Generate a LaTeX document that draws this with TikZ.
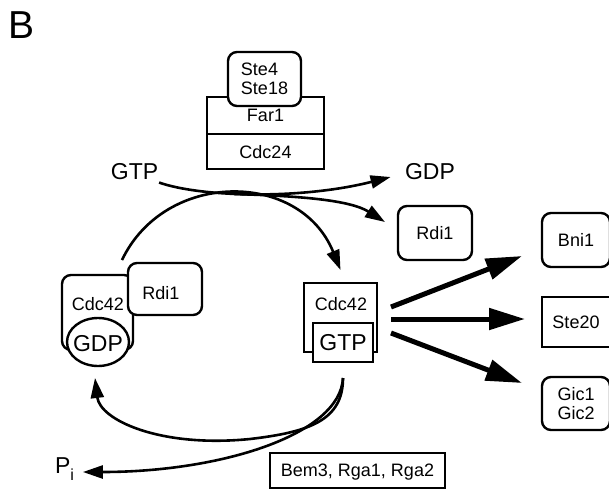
\documentclass[tikz,border=0pt]{standalone}
\usepackage{fontspec}
\setmainfont{Liberation Sans}
\usetikzlibrary{arrows.meta,shapes.geometric}
\begin{document}
\begin{tikzpicture}[x=1pt,y=-1pt,
  every node/.style={inner sep=0pt, outer sep=0pt},
  lbl/.style={font=\fontsize{18}{19}\selectfont, text depth=0pt},
  big/.style={font=\fontsize{23}{25}\selectfont, text depth=0pt},
  rbox/.style={draw, line width=2.4pt, rounded corners=9pt, fill=white, lbl},
  sbox/.style={draw, line width=2.4pt, fill=white, lbl},
  link/.style={line width=2.6pt, -{Triangle[length=20pt,width=13pt]}},
  push/.style={line width=5pt, -{Triangle[length=36pt,width=21pt]}},
]
\useasboundingbox (0,0) rectangle (609,490);

% panel letter
\node[font=\fontsize{39}{39}\selectfont, anchor=base] (panel) at (21.5,38) {B};

% GEF complex: Far1 / Cdc24 with the G-beta-gamma cap
\node[sbox, minimum width=117pt, minimum height=37pt] (far) at (265.5,115.5) {Far1};
\node[sbox, minimum width=117pt, minimum height=35pt] (cdc24) at (265.5,151.5) {Cdc24};
\node[rbox, minimum width=73pt, minimum height=54pt, align=left] (ste) at (264.5,79) {Ste4\\Ste18};

% nucleotide labels
\node[big] (gtpL) at (134.5,171.5) {GTP};
\node[big] (gdpL) at (430,171) {GDP};

% released Rdi1
\node[rbox, minimum width=74pt, minimum height=54pt] (rdiR) at (435,233) {Rdi1};

% effectors
\node[rbox, minimum width=68pt, minimum height=54pt] (bni) at (576,240) {Bni1};
\node[sbox, minimum width=68pt, minimum height=50pt] (ste20) at (576,322) {Ste20};
\node[rbox, minimum width=68pt, minimum height=53pt, align=center] (gic) at (576,403.5) {Gic1\\Gic2};

% inactive Cdc42-GDP bound to Rdi1
\node[rbox, minimum width=71pt, minimum height=75pt] (cdcD) at (97.5,312.5) {};
\node[lbl] at (98,303.5) {Cdc42};
\node[draw, ellipse, line width=2.4pt, fill=white, minimum width=62pt, minimum height=48pt] (gdpE) at (98,342) {};
\node[big] at (98,343.5) {GDP};
\node[rbox, minimum width=74pt, minimum height=52pt] (rdiL) at (165,289) {};
\node[lbl] at (161,292.5) {Rdi1};

% active Cdc42-GTP
\node[sbox, minimum width=73pt, minimum height=69pt] (cdcT) at (340.5,317.5) {};
\node[lbl] at (341,303.5) {Cdc42};
\node[sbox, big, minimum width=60pt, minimum height=39pt] (gtpB) at (343,342.5) {GTP};

% GAPs
\node[sbox, minimum width=175pt, minimum height=35pt] (gap) at (357.5,470.5) {Bem3, Rga1, Rga2};

% phosphate
\node[big, anchor=base west] (piL) at (55,473) {P\raisebox{-7pt}{\fontsize{16}{16}\selectfont i}};

% nucleotide exchange
\draw[link] ([shift={(1,3)}]gtpL.south east) .. controls (200,197) and (300,200) .. ([shift={(-14.5,6)}]gdpL.west);
\draw[link] ([shift={(-6,-3)}]rdiL.north west) .. controls (165,170) and (300,170) .. ([shift={(0,-13)}]cdcT.north);
\coordinate (fork) at (234,194);
\draw[link] (fork) .. controls (300,196) and (350,200) .. ([shift={(-13,-11)}]rdiR.west);

% signalling to effectors
\draw[push] ([shift={(14,-10.5)}]cdcT.east) -- ([shift={(-20,16)}]bni.west);
\draw[push] ([shift={(14,1.5)}]cdcT.east) -- ([shift={(-17,-3)}]ste20.west);
\draw[push] ([shift={(14,15.5)}]cdcT.east) -- ([shift={(-20,-20.5)}]gic.west);

% GTP hydrolysis
\draw[link] ([shift={(0,16)}]gtpB.south) .. controls (343,420) and (310,432) .. (250,439)
  .. controls (160,448) and (100,420) .. ([shift={(-3,12)}]gdpE.south);
\draw[link] ([shift={(0,16)}]gtpB.south) .. controls (340,435) and (220,472) .. ([shift={(9,-1)}]piL.base east);
\end{tikzpicture}
\end{document}
